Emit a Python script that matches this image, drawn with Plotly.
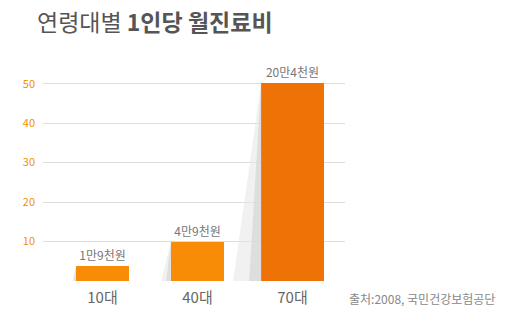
import plotly.graph_objects as go

categories = ["10대", "40대", "70대"]
values = [3.8, 9.9, 50.2]
value_labels = ["1만9천원", "4만9천원", "20만4천원"]
bar_colors = ["#F98C07", "#F98C07", "#EE7205"]
bar_widths = [0.56, 0.56, 0.66]
y_ticks = [10, 20, 30, 40, 50]

x_pos = [0, 1, 2.0]

# plot area in pixels
L, R, T, B = 43, 184, 64, 46
W, H = 529, 327
PW, PH = W - L - R, H - T - B


def px(x):
    return (x - L) / PW


def py(y):
    return (H - B - y) / PH


fig = go.Figure()

# soft shadow wedges to the left of each bar (derived from the data)
for xp, v, w in zip(x_pos, values, bar_widths):
    left = xp - w / 2
    frac_list = [(min(0.25, 28 / (v * 3.94)), "rgba(232,232,232,0.6)"),
                 (min(0.12, 12 / (v * 3.94)), "rgba(210,210,210,0.6)")]
    for frac, col in frac_list:
        off = v * frac * 3.94 / 95
        fig.add_trace(go.Scatter(
            x=[left, left, left - off, left], y=[v, 0, 0, v],
            fill="toself", fillcolor=col, mode="lines", line=dict(width=0),
            hoverinfo="skip", showlegend=False))

fig.add_trace(go.Bar(
    x=x_pos, y=values, width=bar_widths,
    marker=dict(color=bar_colors, line=dict(width=0)),
    text=value_labels, textposition="outside",
    textfont=dict(family="Noto Sans CJK KR", size=12, color="#777777"),
    cliponaxis=False, showlegend=False))

fig.update_layout(
    width=W, height=H,
    margin=dict(l=L, r=R, t=T, b=B),
    paper_bgcolor="white", plot_bgcolor="white",
    bargap=0,
    xaxis=dict(
        range=[-0.626, 2.553], tickvals=x_pos, ticktext=categories,
        showgrid=False, zeroline=False, showline=False, ticks="",
        ticklabelstandoff=6,
        tickfont=dict(family="Noto Sans CJK KR", size=15, color="#666666"),
        fixedrange=True),
    yaxis=dict(
        range=[0, 55], tickvals=[0] + y_ticks, ticktext=[""] + [str(t) for t in y_ticks],
        showgrid=True, gridcolor="#DDDDDD", gridwidth=1,
        zeroline=False, showline=False, ticks="", ticklabelstandoff=7,
        tickfont=dict(family="Noto Sans CJK KR", size=11, color="#F39200"),
        fixedrange=True),
    annotations=[
        dict(text="연령대별 <b>1인당 월진료비</b>", xref="paper", yref="paper",
             x=px(35), y=py(21), xanchor="left", yanchor="middle",
             showarrow=False, font=dict(family="Noto Sans CJK KR", size=23, color="#555555")),
        dict(text="출처:2008, 국민건강보험공단", xref="paper", yref="paper",
             x=px(347), y=py(298), xanchor="left", yanchor="middle",
             showarrow=False, font=dict(family="Noto Sans CJK KR", size=12, color="#888888")),
    ],
)

fig.write_html("out.html")
